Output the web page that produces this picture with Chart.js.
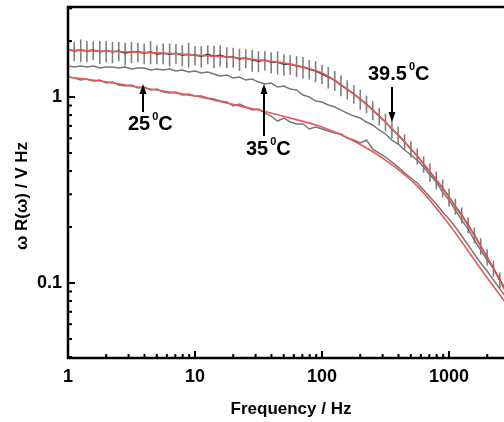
<!DOCTYPE html>
<html>
<head>
<meta charset="utf-8">
<script src="https://cdn.jsdelivr.net/npm/chart.js@4.4.1/dist/chart.umd.min.js"></script>
<style>
  html, body { margin: 0; padding: 0; background: #fff; }
</style>
</head>
<body>
<canvas id="chart" width="504" height="422"></canvas>
<script>
// measured frequencies (Hz)
const freq = [1, 1.12, 1.26, 1.41, 1.58, 1.78, 2.0, 2.24, 2.51, 2.82,
  3.16, 3.55, 3.98, 4.47, 5.01, 5.62, 6.31, 7.08, 7.94, 8.91,
  10, 11.2, 12.6, 14.1, 15.8, 17.8, 20, 22.4, 25.1, 28.2,
  31.6, 35.5, 39.8, 44.7, 50.1, 56.2, 63.1, 70.8, 79.4, 89.1,
  100, 112, 126, 141, 158, 178, 200, 224, 251, 282,
  316, 355, 398, 447, 501, 562, 631, 708, 794, 891,
  1000, 1122, 1259, 1413, 1585, 1778, 1995, 2239, 2512, 2818];

// omega R(omega), 25 C
const omegaR25 = [1.281, 1.265, 1.234, 1.250, 1.219, 1.234, 1.189, 1.204, 1.160, 1.146,
  1.160, 1.118, 1.132, 1.091, 1.104, 1.064, 1.051, 1.064, 1.025, 1.038,
  1.012, 1.012, 0.988, 0.975, 0.952, 0.940, 0.895, 0.917, 0.884, 0.851,
  0.862, 0.820, 0.790, 0.743, 0.771, 0.734, 0.716, 0.716, 0.673, 0.690,
  0.673, 0.657, 0.641, 0.633, 0.602, 0.587, 0.566, 0.587, 0.525, 0.500,
  0.476, 0.447, 0.420, 0.390, 0.367, 0.345, 0.316, 0.290, 0.266, 0.241,
  0.221, 0.200, 0.179, 0.160, 0.143, 0.128, 0.116, 0.104, 0.093, 0.084];

// 35 C
const omegaR35 = [1.468, 1.450, 1.468, 1.450, 1.468, 1.432, 1.450, 1.450, 1.432, 1.450,
  1.414, 1.432, 1.432, 1.397, 1.414, 1.397, 1.414, 1.380, 1.397, 1.363,
  1.380, 1.346, 1.363, 1.329, 1.297, 1.313, 1.265, 1.281, 1.234, 1.250,
  1.204, 1.175, 1.189, 1.132, 1.146, 1.104, 1.091, 1.025, 1.000, 0.952,
  0.940, 0.906, 0.884, 0.851, 0.820, 0.790, 0.771, 0.734, 0.707, 0.665,
  0.633, 0.587, 0.559, 0.519, 0.488, 0.458, 0.420, 0.381, 0.349, 0.308,
  0.279, 0.247, 0.218, 0.195, 0.170, 0.150, 0.133, 0.120, 0.104, 0.092];

// 39.5 C with error bars
const omegaR395 = [1.79, 1.77, 1.79, 1.77, 1.79, 1.75, 1.77, 1.75, 1.77, 1.72,
  1.75, 1.75, 1.72, 1.75, 1.70, 1.72, 1.70, 1.72, 1.68, 1.70,
  1.68, 1.66, 1.70, 1.66, 1.68, 1.64, 1.64, 1.60, 1.62, 1.58,
  1.56, 1.58, 1.54, 1.54, 1.50, 1.50, 1.47, 1.45, 1.41, 1.38,
  1.33, 1.28, 1.23, 1.16, 1.10, 1.04, 0.975, 0.917, 0.851, 0.790,
  0.734, 0.673, 0.625, 0.573, 0.525, 0.482, 0.436, 0.395, 0.358, 0.324,
  0.290, 0.259, 0.232, 0.205, 0.181, 0.158, 0.138, 0.120, 0.104, 0.089];

const omegaR395Err = [0.23, 0.21, 0.25, 0.23, 0.21, 0.25, 0.23, 0.23, 0.21, 0.24,
  0.23, 0.21, 0.22, 0.25, 0.20, 0.22, 0.24, 0.21, 0.22, 0.26,
  0.20, 0.22, 0.20, 0.23, 0.22, 0.21, 0.20, 0.22, 0.19, 0.21,
  0.20, 0.19, 0.20, 0.22, 0.20, 0.18, 0.19, 0.19, 0.17, 0.18,
  0.16, 0.17, 0.15, 0.15, 0.13, 0.12, 0.12, 0.10, 0.10, 0.087,
  0.081, 0.074, 0.069, 0.057, 0.053, 0.048, 0.044, 0.045, 0.040, 0.036,
  0.032, 0.026, 0.023, 0.020, 0.018, 0.016, 0.014, 0.012, 0.010, 0.009];

// fitted curves (red)
const fitFreq = [1, 1.78, 3.16, 5.62, 10, 17.8, 31.6, 56.2, 100, 178, 316, 562, 1000, 1778, 2818];
const fit25 = [1.281, 1.219, 1.146, 1.077, 1.012, 0.929, 0.851, 0.771, 0.690, 0.580, 0.458, 0.332, 0.207, 0.119, 0.0776];
const fit395 = [1.789, 1.767, 1.746, 1.724, 1.682, 1.641, 1.581, 1.504, 1.346, 1.038, 0.734, 0.482, 0.290, 0.158, 0.089];

const tempLabels = ["25", "35", "39.5"];
const xTickLabels = [1, 10, 100, 1000];
const yTickLabels = [0.1, 1];

const narrowFont = "'Liberation Sans Narrow', 'Arial Narrow', 'Liberation Sans', Arial, sans-serif";
const plainFont = "'Liberation Sans', Arial, sans-serif";
const red = "rgb(232, 90, 86)";

function toPoints(xs, ys) {
    return xs.map((x, i) => ({ x: x, y: ys[i] }));
}

function isListed(list, v) {
    return list.some(t => Math.abs(t / v - 1) < 1e-6);
}

// drop the edge padding chart.js keeps for tick labels
function noPadding(s) {
    s.paddingLeft = 0;
    s.paddingRight = 0;
    s.paddingTop = 0;
    s.paddingBottom = 0;
}

/* =========================
   error bars
========================= */
const errorBarPlugin = {
    id: "errorBars",
    beforeDatasetsDraw(chart) {
        const { ctx, chartArea } = chart;
        const x = chart.scales.x;
        const y = chart.scales.y;

        chart.data.datasets.forEach(ds => {
            if (!ds.errorBars) {
                return;
            }
            ctx.save();
            ctx.beginPath();
            ctx.rect(chartArea.left, chartArea.top, chartArea.width, chartArea.height);
            ctx.clip();
            ctx.strokeStyle = "#808080";
            ctx.lineWidth = 1.6;
            ds.data.forEach((p, i) => {
                const px = x.getPixelForValue(p.x);
                const top = y.getPixelForValue(p.y + ds.errorBars[i]);
                const bottom = y.getPixelForValue(p.y - ds.errorBars[i]);
                ctx.beginPath();
                ctx.moveTo(px, top);
                ctx.lineTo(px, bottom);
                ctx.stroke();
            });
            ctx.restore();
        });
    }
};

/* =========================
   frame, inward ticks, titles, labels
========================= */
function drawArrow(ctx, x, tail, tip) {
    const dir = Math.sign(tip - tail);
    ctx.lineWidth = 2;
    ctx.beginPath();
    ctx.moveTo(x, tail);
    ctx.lineTo(x, tip - dir * 6);
    ctx.stroke();
    ctx.beginPath();
    ctx.moveTo(x, tip);
    ctx.lineTo(x - 3.5, tip - dir * 10);
    ctx.lineTo(x + 3.5, tip - dir * 10);
    ctx.closePath();
    ctx.fill();
}

function drawTemp(ctx, text, left, baseline) {
    ctx.textAlign = "left";
    ctx.textBaseline = "alphabetic";
    ctx.font = "bold 20px " + narrowFont;
    ctx.fillText(text, left, baseline);
    const w = ctx.measureText(text).width + 2;
    ctx.font = "bold 11px " + narrowFont;
    ctx.fillText("0", left + w, baseline - 10);
    const w0 = ctx.measureText("0").width;
    ctx.font = "bold 20px " + narrowFont;
    ctx.fillText("C", left + w + w0, baseline);
}

const framePlugin = {
    id: "frame",
    afterDraw(chart) {
        const { ctx, chartArea } = chart;
        const x = chart.scales.x;
        const y = chart.scales.y;
        const L = chartArea.left, R = chartArea.right, T = chartArea.top, B = chartArea.bottom;

        ctx.save();
        ctx.strokeStyle = "#000";
        ctx.fillStyle = "#000";

        // axis lines
        ctx.lineWidth = 2.5;
        ctx.beginPath();
        ctx.moveTo(R + 2, T);
        ctx.lineTo(L, T);
        ctx.lineTo(L, B);
        ctx.lineTo(R + 2, B);
        ctx.stroke();

        // inward ticks
        ctx.lineWidth = 2;
        for (let e = -2; e <= 3; e++) {
            for (let k = 1; k <= 9; k++) {
                const v = k * Math.pow(10, e);
                const len = k === 1 ? 7 : 4;
                if (v >= x.min && v <= x.max) {
                    const px = x.getPixelForValue(v);
                    ctx.beginPath();
                    ctx.moveTo(px, B);
                    ctx.lineTo(px, B - len);
                    ctx.stroke();
                }
                if (v >= y.min && v <= y.max) {
                    const py = y.getPixelForValue(v);
                    ctx.beginPath();
                    ctx.moveTo(L, py);
                    ctx.lineTo(L + len, py);
                    ctx.stroke();
                }
            }
        }

        // axis titles
        ctx.font = "bold 17px " + plainFont;
        ctx.textAlign = "center";
        ctx.textBaseline = "alphabetic";
        ctx.fillText("Frequency / Hz", 291, 414);

        ctx.save();
        ctx.translate(27, 196);
        ctx.rotate(-Math.PI / 2);
        ctx.fillText("\u03c9 R(\u03c9) / V Hz", 0, 0);
        ctx.restore();

        // temperature labels
        drawArrow(ctx, 143, 112, 84);
        drawTemp(ctx, tempLabels[0], 128, 130);

        drawArrow(ctx, 264, 136, 84);
        drawTemp(ctx, tempLabels[1], 246, 155);

        drawArrow(ctx, 392, 87, 122);
        drawTemp(ctx, tempLabels[2], 368, 80);

        ctx.restore();
    }
};

const ctx = document.getElementById("chart");

const chart = new Chart(ctx, {
    type: "line",
    data: {
        datasets: [
            {
                label: "39.5 fit",
                data: toPoints(fitFreq, fit395),
                borderColor: red,
                borderWidth: 1.6,
                pointRadius: 0,
                cubicInterpolationMode: "monotone"
            },
            {
                label: "25 fit",
                data: toPoints(fitFreq, fit25),
                borderColor: red,
                borderWidth: 1.6,
                pointRadius: 0,
                cubicInterpolationMode: "monotone"
            },
            {
                label: "39.5",
                data: toPoints(freq, omegaR395),
                errorBars: omegaR395Err,
                borderColor: "#444",
                borderWidth: 1.5,
                pointRadius: 0
            },
            {
                label: "35",
                data: toPoints(freq, omegaR35),
                borderColor: "#777",
                borderWidth: 1.5,
                pointRadius: 0
            },
            {
                label: "25",
                data: toPoints(freq, omegaR25),
                borderColor: "#777",
                borderWidth: 1.5,
                pointRadius: 0
            }
        ]
    },
    options: {
        responsive: false,
        animation: false,
        layout: {
            padding: { top: 7, right: 0, left: 0, bottom: 0 }
        },
        plugins: {
            legend: { display: false },
            tooltip: { enabled: false }
        },
        scales: {
            x: {
                type: "logarithmic",
                min: 1,
                max: 2710,
                grid: { display: false, drawTicks: false },
                border: { display: false },
                ticks: {
                    autoSkip: false,
                    maxRotation: 0,
                    padding: 8,
                    color: "#000",
                    font: { family: narrowFont, size: 18, weight: "bold" },
                    callback: v => isListed(xTickLabels, v) ? String(v) : ""
                },
                afterFit: s => {
                    s.height = 64;
                    noPadding(s);
                }
            },
            y: {
                type: "logarithmic",
                min: 0.0395,
                max: 3.05,
                grid: { display: false, drawTicks: false },
                border: { display: false },
                ticks: {
                    autoSkip: false,
                    padding: 6,
                    color: "#000",
                    font: { family: narrowFont, size: 18, weight: "bold" },
                    callback: v => isListed(yTickLabels, v) ? String(v) : ""
                },
                afterFit: s => {
                    s.width = 68;
                    noPadding(s);
                }
            }
        }
    },
    plugins: [errorBarPlugin, framePlugin]
});
</script>
</body>
</html>
